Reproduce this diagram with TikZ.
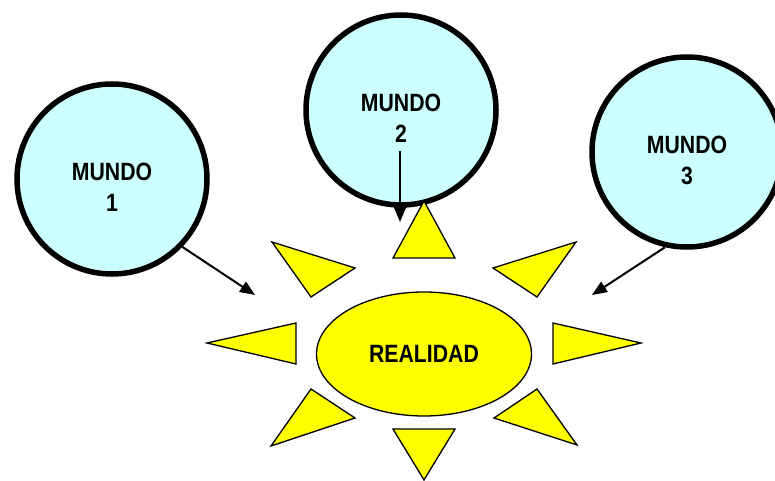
\documentclass[tikz,border=0pt]{standalone}
\usepackage{fontspec}
\setmainfont{Liberation Sans}[FakeStretch=0.85]
\usetikzlibrary{shapes.geometric,arrows.meta}
\definecolor{mundoblue}{HTML}{CCFFFF}
\definecolor{solyellow}{HTML}{FFFF00}
\tikzset{
    mundo/.style={circle, draw=black, line width=5.5bp, fill=mundoblue, minimum size=190bp, inner sep=0pt},
    mundotext/.style={align=center, yshift=-8bp, font=\bfseries\fontsize{25bp}{31bp}\selectfont},
    sol/.style={ellipse, draw=black, line width=1.3bp, fill=solyellow, minimum width=215bp, minimum height=124bp,
        font=\bfseries\fontsize{25bp}{30bp}\selectfont},
    ray/.style={draw=black, line width=1.3bp, fill=solyellow, line join=miter},
    pointer/.style={line width=2bp, -{Triangle[length=15bp,width=12bp]}}
}
\begin{document}
\begin{tikzpicture}[x=1bp,y=-1bp]
    \useasboundingbox (0,0) rectangle (775,481);
    % the three worlds
    \node[mundo, label={[mundotext]center:MUNDO\\1}] (m1) at (112,179) {};
    \node[mundo, label={[mundotext]center:MUNDO\\2}] (m2) at (401,110) {};
    \node[mundo, label={[mundotext]center:MUNDO\\3}] (m3) at (687,152) {};
    % sun rays
    \filldraw[ray] (424,201) -- (393,258) -- (455,258) -- cycle;
    \filldraw[ray] (393,429) -- (455,429) -- (424,480) -- cycle;
    \filldraw[ray] (207,343) -- (296,323) -- (296,364) -- cycle;
    \filldraw[ray] (641,343) -- (553,323) -- (553,364) -- cycle;
    \filldraw[ray] (272,242) -- (355,268) -- (311,297) -- cycle;
    \filldraw[ray] (576,242) -- (493,268) -- (537,297) -- cycle;
    \filldraw[ray] (311,389) -- (355,418) -- (271,446) -- cycle;
    \filldraw[ray] (537,389) -- (494,418) -- (577,445) -- cycle;
    % the sun
    \node[sol] (real) at (424,354) {REALIDAD};
    % arrows
    \coordinate (t1) at (255,295);
    \coordinate (s2) at (400,151);
    \coordinate (t2) at (400,222);
    \coordinate (t3) at (592,295);
    \draw[pointer] (m1.-44) -- (t1);
    \draw[pointer] (s2) -- (t2);
    \draw[pointer] (m3.-103) -- (t3);
\end{tikzpicture}
\end{document}
